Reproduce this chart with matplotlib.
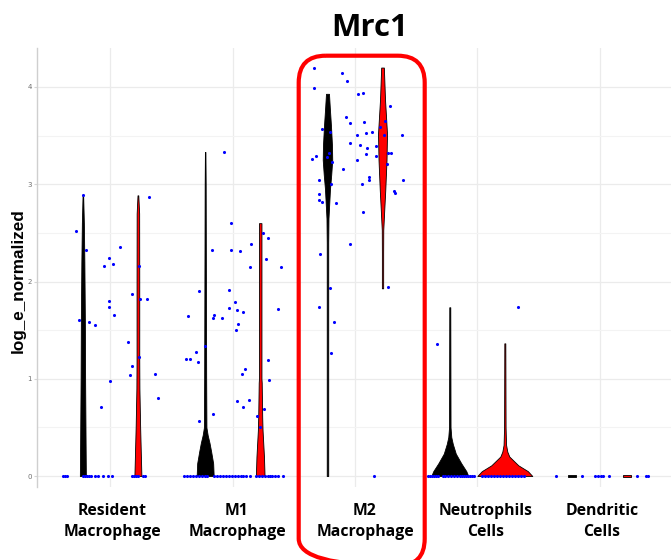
import matplotlib
matplotlib.use('Agg')
import matplotlib.pyplot as plt
from matplotlib.patches import FancyBboxPatch
import numpy as np

# ---- chart data -------------------------------------------------------
title = 'Mrc1'
ylabel = 'log_e_normalized'
groups = [('Resident', 'Macrophage'), ('M1', 'Macrophage'), ('M2', 'Macrophage'),
          ('Neutrophils', 'Cells'), ('Dendritic', 'Cells')]
yticks = [0, 1, 2, 3, 4]

# violin density profiles, two conditions per group (black, red), same order as groups
violin_y = [
    [0, 0.3, 1.0, 1.6, 2.2, 2.6, 2.886],
    [0, 0.2, 0.5, 0.9, 1.2, 2.0, 2.7, 2.886],
    [0, 0.13, 0.25, 0.34, 0.42, 0.5, 1.0, 2.0, 3.0, 3.332],
    [0, 0.2, 0.47, 0.6, 0.96, 1.0, 2.6],
    [0, 1.0, 2.4, 2.65, 2.8, 2.95, 3.1, 3.25, 3.4, 3.6, 3.8, 3.93],
    [1.93, 2.3, 2.53, 2.74, 2.94, 3.25, 3.52, 3.87, 4.2],
    [0, 0.05, 0.13, 0.23, 0.33, 0.4, 0.5, 1.0, 1.735],
    [0, 0.05, 0.11, 0.2, 0.25, 0.32, 0.5, 1.364],
    [-0.008, 0.008],
    [-0.008, 0.008],
]
violin_d = [
    [6, 5.5, 4.5, 4, 3, 2, 0.6],
    [7, 6, 4.5, 3, 2.7, 2.7, 2.5, 0.8],
    [17, 16, 12, 8.7, 5, 2.5, 2, 1.5, 1, 0.5],
    [8.7, 7.5, 4.7, 4, 3, 2.5, 2.5],
    [1.5, 1.5, 1.5, 2, 3.5, 5, 7.5, 9.5, 9, 7, 4.5, 3],
    [1.3, 1.3, 1.5, 3.5, 5.5, 8, 9, 5, 2.7],
    [37, 33, 23, 12, 6, 3, 1.5, 1.3, 1],
    [55, 46, 27, 9, 5, 2.5, 1.5, 1],
    [8, 8],
    [8, 8],
]

# jittered cells (offset from group centre, expression value)
res_jit = [-0.223, -0.283, -0.196, 0.076, -0.014, -0.055, 0.022, -0.256, -0.177, -0.128,
           -0.011, -0.011, 0.030, 0.144, 0.177, 0.163, -0.006, -0.076, 0.313, 0.231,
           0.177, 0.245, 0.302, 0.231, 0.365, 0.389]
res_val = [2.886, 2.522, 2.324, 2.352, 2.245, 2.159, 2.183, 1.607, 1.587, 1.556,
           1.803, 1.738, 1.652, 1.381, 1.128, 1.039, 0.977, 0.710, 2.866, 2.162,
           1.875, 1.820, 1.817, 1.227, 1.052, 0.805]
res_zero = [-0.384, -0.367, -0.351, -0.220, -0.204, -0.188, -0.171, -0.155, -0.122, -0.098,
            -0.057, -0.016, 0.016, 0.180, 0.196, 0.212, 0.229, 0.269, 0.286]

m1_jit = [-0.067, -0.015, -0.173, -0.010, 0.059, 0.151, 0.145, 0.247, 0.292, 0.273,
          0.393, -0.279, -0.031, 0.015, -0.029, 0.034, 0.086, -0.363, -0.151, -0.165,
          -0.086, 0.042, 0.029, 0.369, -0.227, -0.298, -0.382, -0.353, -0.287, 0.100,
          0.078, 0.292, 0.296, 0.039, 0.137, 0.088, 0.257, 0.202, 0.222, -0.276, -0.157]
m1_val = [3.332, 2.602, 2.327, 2.321, 2.314, 2.383, 2.146, 2.496, 2.450, 2.234,
          2.152, 1.902, 1.913, 1.789, 1.728, 1.704, 1.689, 1.648, 1.656, 1.622,
          1.622, 1.566, 1.501, 1.717, 1.334, 1.275, 1.206, 1.206, 1.169, 1.103,
          1.052, 1.196, 0.984, 0.774, 0.778, 0.706, 0.689, 0.617, 0.504, 0.569, 0.641]
m1_zero = [-0.396, -0.371, -0.347, -0.322, -0.298, -0.273, -0.249, -0.224, -0.208, -0.151,
           -0.127, -0.102, -0.078, -0.053, -0.029, -0.004, 0.020, 0.045, 0.069, 0.086,
           0.110, 0.143, 0.192, 0.216, 0.241, 0.265, 0.290, 0.306, 0.322, 0.347, 0.371, 0.412]

m2_jit = [-0.337, -0.109, -0.065, -0.337, 0.027, 0.065, 0.286, -0.073, -0.038, 0.071,
          0.242, -0.267, -0.204, 0.092, 0.141, 0.204, 0.014, 0.381, 0.234, -0.041,
          0.038, 0.098, 0.174, -0.210, -0.231, -0.321, -0.353, -0.185, 0.087, 0.169,
          0.267, 0.294, 0.264, 0.016, -0.100, 0.112, 0.114, 0.389, -0.294, -0.193,
          0.055, 0.321, 0.327, -0.294, -0.296, -0.267, -0.153, 0.063, -0.043, -0.288,
          0.267, -0.202, -0.296, -0.174, -0.196]
m2_val = [4.199, 4.144, 4.059, 3.993, 3.931, 3.938, 3.805, 3.692, 3.630, 3.643,
          3.647, 3.568, 3.534, 3.527, 3.534, 3.592, 3.506, 3.510, 3.503, 3.427,
          3.400, 3.370, 3.396, 3.324, 3.280, 3.287, 3.263, 3.226, 3.308, 3.287,
          3.321, 3.321, 3.208, 3.246, 3.154, 3.075, 3.041, 3.041, 3.041, 2.999,
          2.999, 2.934, 2.907, 2.900, 2.835, 2.821, 2.810, 2.715, 2.389, 2.280,
          1.947, 1.933, 1.741, 1.580, 1.268]
m2_zero = [0.155]

neu_jit = [-0.333, 0.336]
neu_val = [1.354, 1.735]
neu_zero = [-0.404, -0.388, -0.371, -0.355, -0.339, -0.322, -0.282, -0.265, -0.241, -0.216,
            -0.192, -0.167, -0.143, -0.127, -0.110, -0.094, -0.078, -0.061, -0.045, -0.029,
            0.037, 0.061, 0.086, 0.110, 0.135, 0.159, 0.184, 0.208, 0.233, 0.257,
            0.282, 0.306, 0.331, 0.355, 0.380]

den_jit = []
den_val = []
den_zero = [-0.353, -0.147, -0.041, -0.016, 0.008, 0.024, 0.073, 0.302, 0.376, 0.392]

# ---- figure -----------------------------------------------------------
W, H = 671, 560
fig = plt.figure(figsize=(W / 100, H / 100), dpi=100)
fig.patch.set_facecolor('white')

# axes box in pixels: x 37..673, y 48..487
ax_l, ax_r, ax_t, ax_b = 37, 673, 48, 487
ax = fig.add_axes([ax_l / W, 1 - ax_b / H, (ax_r - ax_l) / W, (ax_b - ax_t) / H])
ax.set_xlim(-0.6, 4.6)
ax.set_ylim(-0.113, 4.401)

cat_px = (ax_r - ax_l) / 5.2   # pixels per category unit
dodge = 0.225

# grid like ggplot minimal
ax.set_xticks(range(len(groups)))
ax.set_xticklabels([])
ax.set_yticks(yticks)
ax.set_yticks([0.5, 1.5, 2.5, 3.5], minor=True)
ax.grid(True, which='major', color='#EBEBEB', lw=0.9)
ax.grid(True, which='minor', axis='y', color='#F3F3F3', lw=0.8)
ax.set_axisbelow(True)
for s in ['top', 'right', 'bottom']:
    ax.spines[s].set_visible(False)
ax.spines['left'].set_color('#CFCFCF')
ax.spines['left'].set_linewidth(1.0)
ax.tick_params(axis='x', length=0)
ax.tick_params(axis='y', which='major', length=2.2, color='#D5D5D5', pad=1.5,
               labelsize=5, labelcolor='#6E6E6E')
ax.tick_params(axis='y', which='minor', length=0)

# violins
stats, pos, wid = [], [], []
for i, (ys, ds) in enumerate(zip(violin_y, violin_d)):
    g, side = divmod(i, 2)
    ys = np.array(ys, float)
    ds = np.array(ds, float)
    stats.append(dict(coords=ys, vals=ds, mean=ys.mean(), median=np.median(ys),
                      min=ys.min(), max=ys.max()))
    pos.append(g + (dodge if side else -dodge))
    wid.append(ds.max() / cat_px)

parts = ax.violin(stats, positions=pos, widths=wid, showmeans=False,
                  showextrema=False, showmedians=False)
for i, body in enumerate(parts['bodies']):
    body.set_facecolor('red' if i % 2 else 'black')
    body.set_edgecolor('black')
    body.set_linewidth(0.6)
    body.set_alpha(1)
    body.set_zorder(2)

# cells
jits = [res_jit, m1_jit, m2_jit, neu_jit, den_jit]
vals = [res_val, m1_val, m2_val, neu_val, den_val]
zeros = [res_zero, m1_zero, m2_zero, neu_zero, den_zero]
for g in range(len(groups)):
    xs = [g + j for j in jits[g]] + [g + j for j in zeros[g]]
    ys = list(vals[g]) + [0.0] * len(zeros[g])
    ax.scatter(xs, ys, s=5, color='#0000FF', linewidths=0, zorder=3)

# ---- text -------------------------------------------------------------
fig.text(370 / W, 1 - 36 / H, title, ha='center', va='baseline',
         fontsize=22.5, fontweight='bold', family='Open Sans')
fig.text(18 / W, 1 - 281 / H, ylabel, ha='center', va='center', rotation=90,
         fontsize=12.3, fontweight='bold', family='Liberation Sans')

label_px = [112, 237, 365, 486, 602]
for (l1, l2), xp in zip(groups, label_px):
    fig.text(xp / W, 1 - 515 / H, l1, ha='center', va='baseline',
             fontsize=11.3, fontweight='bold', family='Open Sans')
    fig.text(xp / W, 1 - 536 / H, l2, ha='center', va='baseline',
             fontsize=11.3, fontweight='bold', family='Open Sans')

# red highlight box around M2, drawn in pixel space
ov = fig.add_axes([0, 0, 1, 1])
ov.set_xlim(0, W)
ov.set_ylim(H, 0)
ov.axis('off')
ov.patch.set_alpha(0)
ov.add_patch(FancyBboxPatch((298.7, 55.7), 126, 510,
                            boxstyle='round,pad=0,rounding_size=27',
                            ec='#FF0000', fc='none', lw=3, clip_on=False))

fig.savefig('out.png', dpi=100)
